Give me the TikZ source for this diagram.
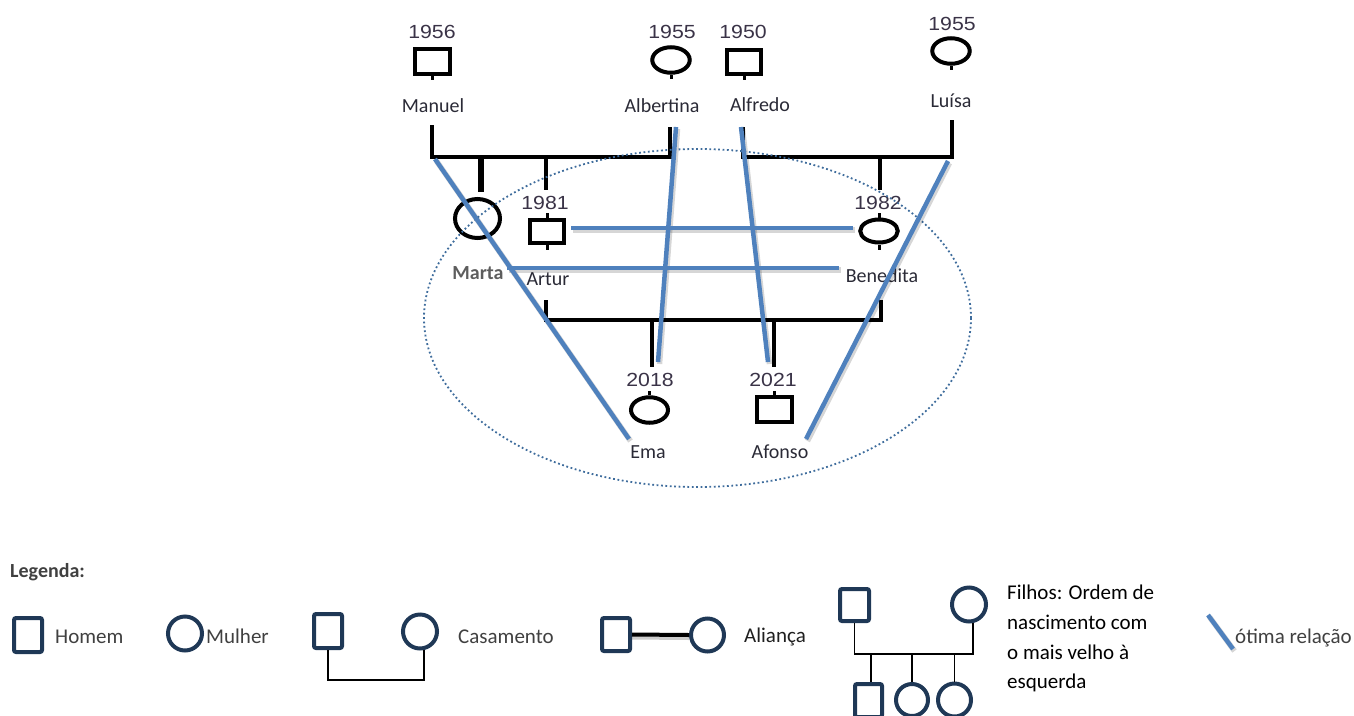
\documentclass[tikz,border=0pt]{standalone}
\usepackage{fontspec}
\setmainfont{Carlito}
\newfontfamily\yearfont[FakeStretch=1.12]{Liberation Sans}
\usetikzlibrary{shapes.geometric,calc}
\definecolor{relblue}{HTML}{4F81BD}
\definecolor{navy}{HTML}{1F3856}
\definecolor{ringblue}{HTML}{3E6C9C}
\definecolor{labelgray}{HTML}{404040}
\definecolor{nameink}{HTML}{2A2A36}
\definecolor{yearink}{HTML}{3A3347}
\begin{document}
\begin{tikzpicture}[x=1pt,y=-1pt,
  male/.style={rectangle,draw=black,line width=4pt,inner sep=0pt,minimum width=34.5pt,minimum height=24.5pt},
  female/.style={ellipse,draw=black,line width=4pt,inner sep=0pt,minimum width=37.5pt,minimum height=25.5pt},
  yearlbl/.style={anchor=base,inner sep=0pt,text=yearink,font=\yearfont\fontsize{19}{22}\selectfont},
  pname/.style={anchor=base,inner sep=0pt,text=nameink,font=\fontsize{20}{24}\selectfont},
  kin/.style={draw=black,line width=4pt,line join=miter},
  stub/.style={draw=black,line width=3pt},
  goodrel/.style={draw=relblue,line width=4.5pt},
  relshade/.style={draw=black,opacity=0.16,line width=5.5pt},
  leg/.style={draw=navy,line width=4pt,rounded corners=2pt,inner sep=0pt},
  legtext/.style={anchor=base west,inner sep=0pt,text=labelgray,font=\fontsize{21}{25}\selectfont},
  legline/.style={draw=black,line width=1.5pt},
]
\useasboundingbox (0,0) rectangle (1354,715);
\clip (0,0) rectangle (1354,715);

% ---------- grandparents ----------
\node[yearlbl] at (432,38.5) {1956};
\node[male] (manuel) at (432.5,61.5) {};
\node[pname] (manuelname) at (433,112) {Manuel};
\draw[stub] (manuel.south) -- ++(0,4);

\node[yearlbl] at (672,38.5) {1955};
\node[female] (albertina) at (671,60) {};
\node[pname] (albertinaname) at (662,112) {Albertina};
\draw[stub] (albertina.south) -- ++(0,4);

\node[yearlbl] at (743,38.5) {1950};
\node[male] (alfredo) at (744,62) {};
\node[pname] (alfredoname) at (760,111) {Alfredo};
\draw[stub] (alfredo.south) -- ++(0,4);

\node[yearlbl] at (952,30.5) {1955};
\node[female] (luisa) at (951,51) {};
\node[pname] (luisaname) at (951,107) {Luísa};
\draw[stub] (luisa.south) -- ++(0,4);

% ---------- parents ----------
\node[ellipse,draw=black,line width=4pt,inner sep=0pt,minimum width=45pt,minimum height=39pt] (marta) at (477.5,218.5) {};
\node[pname,text=labelgray!85!white,font=\bfseries\fontsize{20}{24}\selectfont] (martaname) at (478,279) {Marta};

\node[yearlbl] at (545,209.5) {1981};
\node[male,minimum width=34pt,minimum height=23pt] (artur) at (547,231.5) {};
\node[pname] (arturname) at (548,285) {Artur};
\draw[stub] (artur.north) -- ++(0,-5);
\draw[stub] (artur.south) -- ++(0,5);

\node[yearlbl] at (878,209.5) {1982};
\node[female,minimum height=23pt] (benedita) at (879,231) {};
\node[pname] (beneditaname) at (882,282) {Benedita};
\draw[stub] (benedita.north) -- ++(0,-5);
\draw[stub] (benedita.south) -- ++(0,5);

% ---------- children ----------
\node[yearlbl] at (650,386.5) {2018};
\node[female,minimum width=37pt] (ema) at (649.5,410) {};
\node[pname] (emaname) at (648,458) {Ema};
\draw[stub] (ema.north) -- ++(0,-4);

\node[yearlbl] at (773,386.5) {2021};
\node[male] (afonso) at (774.5,409.5) {};
\node[pname] (afonsoname) at (780,458) {Afonso};
\draw[stub] (afonso.north) -- ++(0,-4);

% ---------- marriage and descent lines ----------
\coordinate (mTop) at (432,125);
\coordinate (mBar) at (432,157);
\coordinate (aBar) at (670,157);
\coordinate (aTop) at (670,127);
\draw[kin] (mTop) -- (mBar) -- (aBar) -- (aTop);
\coordinate (fTop) at (743,127);
\coordinate (fBar) at (743,157);
\coordinate (lBar) at (952,157);
\coordinate (lTop) at (952,120);
\draw[kin] (fTop) -- (fBar) -- (lBar) -- (lTop);
\coordinate (martaDrop) at (481,192);
\draw[kin,line width=6pt] (martaDrop |- mBar) -- (martaDrop);
\coordinate (arturDrop) at (546,190);
\draw[kin] (arturDrop |- mBar) -- (arturDrop);
\coordinate (beneditaDrop) at (880,190);
\draw[kin] (beneditaDrop |- lBar) -- (beneditaDrop);
\coordinate (arTop) at (546,300);
\coordinate (arBar) at (546,320);
\coordinate (bnBar) at (881,320);
\coordinate (bnTop) at (881,300);
\draw[kin] (arTop) -- (arBar) -- (bnBar) -- (bnTop);
\coordinate (emaDrop) at (652,367);
\draw[kin] (emaDrop |- arBar) -- (emaDrop);
\coordinate (afonsoDrop) at (774,367);
\draw[kin] (afonsoDrop |- arBar) -- (afonsoDrop);

% ---------- household ring ----------
\node[ellipse,draw=ringblue,line width=1.8pt,dash pattern=on 1.8pt off 2.6pt,
      inner sep=0pt,minimum width=547pt,minimum height=338pt] (household) at (697.5,318) {};

% ---------- very good relationships ----------
\coordinate (r1a) at (435,159);  \coordinate (r1b) at (629,439);
\coordinate (r2a) at (676,127);  \coordinate (r2b) at (658,362);
\coordinate (r3a) at (741,127);  \coordinate (r3b) at (768,362);
\coordinate (r4a) at (948,161);  \coordinate (r4b) at (806,439);
\coordinate (r5a) at (571,228);  \coordinate (r5b) at (853,228);
\coordinate (r6a) at (507,268);  \coordinate (r6b) at (839,268);
\foreach \p in {1,...,6}{
  \draw[relshade] ($(r\p a)+(1.5,2)$) -- ($(r\p b)+(1.5,2)$);
}
\foreach \p in {1,...,6}{
  \draw[goodrel] (r\p a) -- (r\p b);
}

% ---------- legend ----------
\node[legtext,font=\bfseries\fontsize{20}{24}\selectfont] (legtitle) at (10,577) {Legenda:};

\node[leg,rectangle,minimum width=28pt,minimum height=34pt] (lgman) at (28,635) {};
\node[legtext] (lgmantext) at (55,643) {Homem};

\node[leg,circle,minimum size=34pt] (lgwoman) at (185,633.5) {};
\node[legtext] (lgwomantext) at (206,643) {Mulher};

\node[leg,rectangle,minimum width=28pt,minimum height=34pt] (lgcasm) at (328,631) {};
\node[leg,circle,minimum size=34pt] (lgcasf) at (420,631.5) {};
\coordinate (casY) at (0,680);
\draw[legline] (lgcasm.south) -- (lgcasm.south |- casY) -| (lgcasf.-78);
\node[legtext] (lgcastext) at (458,643) {Casamento};

\node[leg,rectangle,minimum width=28pt,minimum height=33pt] (lgalm) at (616,634.5) {};
\node[leg,circle,minimum size=33pt] (lgalf) at (707.5,635) {};
\draw[draw=black,opacity=0.2,line width=4pt] ($(lgalm.east)+(0,3)$) -- ($(lgalf.west)+(0,3)$);
\draw[draw=black,line width=4pt] (lgalm.east) -- (lgalf.west);
\node[legtext,text=black!88] (lgaltext) at (744,642) {Aliança};

\node[leg,rectangle,minimum width=29pt,minimum height=32pt] (lgfa) at (854.5,605) {};
\node[leg,circle,minimum size=34pt] (lgmo) at (969,604.5) {};
\node[leg,rectangle,minimum width=27pt,minimum height=33pt] (lgk1) at (868.5,700.5) {};
\node[leg,circle,minimum size=32pt] (lgk2) at (912,700) {};
\node[leg,circle,minimum size=33pt] (lgk3) at (954.5,700) {};
\coordinate (filY) at (0,654);
\draw[legline] (lgfa.south) -- (lgfa.south |- filY) -| (lgmo.-78);
\draw[legline] ($(lgk1.north)+(2.5,0)$) -- ($(lgk1.north |- filY)+(2.5,0)$);
\draw[legline] (lgk2.north) -- (lgk2.north |- filY);
\draw[legline] (lgk3.north) -- (lgk3.north |- filY);
\node[legtext,text=black] (fil1) at (1007,599) {Filhos: Ordem de};
\node[legtext,text=black] (fil2) at (1007,629) {nascimento com};
\node[legtext,text=black] (fil3) at (1007,659) {o mais velho à};
\node[legtext,text=black] (fil4) at (1007,688) {esquerda};

\coordinate (lgra) at (1208,615);
\coordinate (lgrb) at (1233,649);
\draw[relshade] ($(lgra)+(1.5,2)$) -- ($(lgrb)+(1.5,2)$);
\draw[goodrel] (lgra) -- (lgrb);
\node[legtext] (lgreltext) at (1235,643) {ótima relação};
\end{tikzpicture}
\end{document}
